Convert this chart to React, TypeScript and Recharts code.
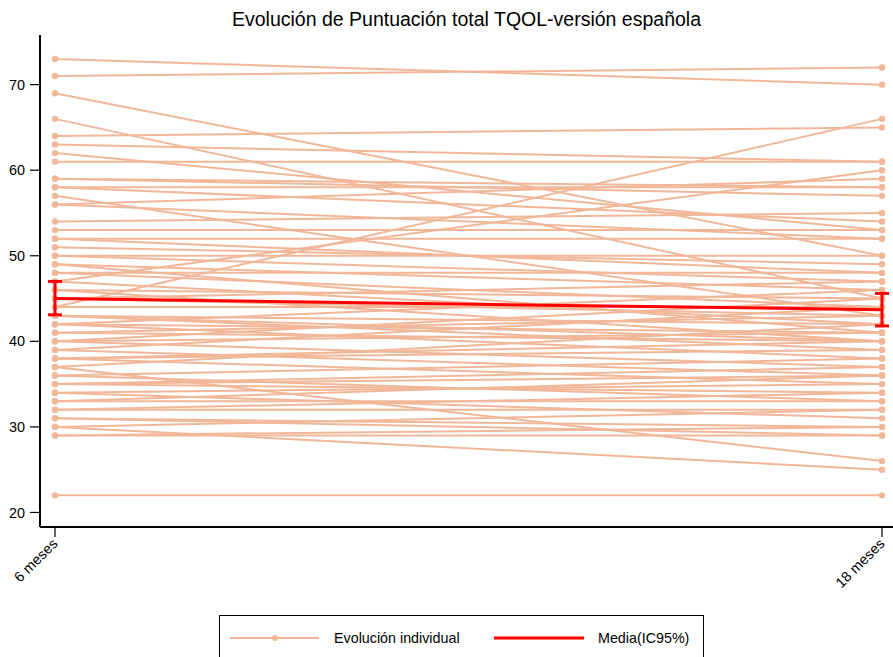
import React from "react";
import { LineChart, Line, XAxis, YAxis, ErrorBar } from "recharts";

// Puntuación total TQOL por paciente a los 6 y 18 meses
const timePoints = ["6 meses", "18 meses"];

const score6m = [
  73, 71, 69, 66, 64, 63, 62, 61, 59, 59, 58, 58, 57, 56, 56, 54, 53, 52, 52, 51,
  50, 50, 49, 49, 48, 48, 47, 47, 46, 46, 45, 45, 44, 44, 43, 43, 42, 42, 41, 41,
  40, 40, 39, 39, 38, 38, 37, 37, 36, 36, 35, 35, 34, 34, 33, 33, 32, 32, 31, 31,
  30, 30, 29, 29, 22, 38, 35, 40, 42, 43,
];

const score18m = [
  70, 72, 50, 45, 65, 61, 53, 61, 58, 57, 58, 54, 43, 59, 52, 55, 53, 48, 52, 49,
  50, 47, 46, 41, 48, 44, 60, 42, 45, 40, 43, 47, 66, 44, 42, 39, 46, 38, 43, 40,
  41, 37, 44, 36, 39, 35, 26, 42, 38, 33, 37, 34, 35, 31, 33, 36, 32, 34, 30, 29,
  25, 32, 30, 29, 22, 40, 36, 45, 41, 40,
];

// media e intervalo de confianza al 95%
const meanScore = [45.0, 43.7];
const ciLower = [43.1, 41.8];
const ciUpper = [47.0, 45.6];

const yTicks = [20, 30, 40, 50, 60, 70];
const yDomain = [18.3, 75.8];
const xPadding = { left: 15, right: 11 };

const INDIV = "#F1B799";
const MEAN = "#FF0000";
const FONT = '"Liberation Sans", Arial, Helvetica, sans-serif';

const rows = timePoints.map((t, k) => {
  const row: Record<string, any> = {
    time: t,
    media: meanScore[k],
    ic: [meanScore[k] - ciLower[k], ciUpper[k] - meanScore[k]],
  };
  score6m.forEach((_, i) => {
    row[`p${i}`] = k === 0 ? score6m[i] : score18m[i];
  });
  return row;
});

const SlantTick = ({ x, y, payload }: any) => (
  <text
    x={x}
    y={y}
    transform={`rotate(-45, ${x}, ${y})`}
    textAnchor="end"
    dy="0.35em"
    fontSize={14.4}
    fontFamily={FONT}
    fill="#000"
  >
    {payload.value}
  </text>
);

export default function App() {
  return (
    <div
      style={{
        position: "absolute",
        left: 0,
        top: 0,
        width: 893,
        height: 657,
        overflow: "hidden",
        background: "#fff",
        fontFamily: FONT,
      }}
    >
      <div
        style={{
          position: "absolute",
          left: 40,
          width: 853,
          top: 8,
          lineHeight: "22px",
          fontSize: 19.5,
          textAlign: "center",
          color: "#000",
        }}
      >
        Evolución de Puntuación total TQOL-versión española
      </div>

      {/* trayectorias individuales y ejes */}
      <div style={{ position: "absolute", left: 0, top: 0 }}>
        <LineChart
          width={893}
          height={657}
          data={rows}
          margin={{ top: 35, right: 0, left: 0, bottom: 70 }}
        >
          <XAxis
            dataKey="time"
            height={60}
            padding={xPadding}
            axisLine={{ stroke: "#000", strokeWidth: 2 }}
            tickLine={{ stroke: "#000", strokeWidth: 1.2 }}
            tickSize={10}
            tickMargin={4}
            tick={<SlantTick />}
            interval={0}
          />
          {/* borde superior del área de trazado */}
          <XAxis
            xAxisId="top"
            orientation="top"
            dataKey="time"
            height={0}
            tick={false}
            tickLine={false}
            axisLine={{ stroke: "#000", strokeWidth: 1.5 }}
          />
          <YAxis
            width={40}
            type="number"
            domain={yDomain}
            ticks={yTicks}
            interval={0}
            axisLine={{ stroke: "#000", strokeWidth: 2 }}
            tickLine={{ stroke: "#000", strokeWidth: 1.2 }}
            tickSize={10}
            tickMargin={5}
            tick={{ fill: "#000", fontSize: 14.4, fontFamily: FONT }}
          />
          {score6m.map((_, i) => (
            <Line
              key={i}
              type="linear"
              dataKey={`p${i}`}
              stroke={INDIV}
              strokeWidth={2}
              dot={{ r: 3.2, fill: INDIV, stroke: "none" }}
              activeDot={false}
              isAnimationActive={false}
            />
          ))}
        </LineChart>
      </div>

      {/* media con IC95% por encima de todo */}
      <div style={{ position: "absolute", left: 0, top: 0 }}>
        <LineChart
          width={893}
          height={657}
          data={rows}
          margin={{ top: 35, right: 0, left: 40, bottom: 130 }}
        >
          <XAxis dataKey="time" hide padding={xPadding} />
          <YAxis hide type="number" domain={yDomain} />
          <Line
            type="linear"
            dataKey="media"
            stroke={MEAN}
            strokeWidth={3}
            dot={false}
            activeDot={false}
            isAnimationActive={false}
          >
            <ErrorBar
              dataKey="ic"
              direction="y"
              width={7}
              stroke={MEAN}
              strokeWidth={3}
            />
          </Line>
        </LineChart>
      </div>

      <div
        style={{
          position: "absolute",
          left: 219,
          top: 615,
          width: 485,
          height: 42,
          borderTop: "1.3px solid #000",
          borderLeft: "1.3px solid #000",
          borderRight: "1.3px solid #000",
          boxSizing: "border-box",
          background: "#fff",
        }}
      >
        <svg width={483} height={41} style={{ display: "block" }}>
          <line x1={10} x2={99} y1={22} y2={22} stroke={INDIV} strokeWidth={2} />
          <circle cx={55} cy={22} r={3} fill={INDIV} />
          <text x={114} y={22} dy="0.35em" fontSize={14.3} fontFamily={FONT} fill="#000">
            Evolución individual
          </text>
          <line x1={274} x2={364} y1={22} y2={22} stroke={MEAN} strokeWidth={3} />
          <text x={378} y={22} dy="0.35em" fontSize={14.3} fontFamily={FONT} fill="#000">
            Media(IC95%)
          </text>
        </svg>
      </div>
    </div>
  );
}
